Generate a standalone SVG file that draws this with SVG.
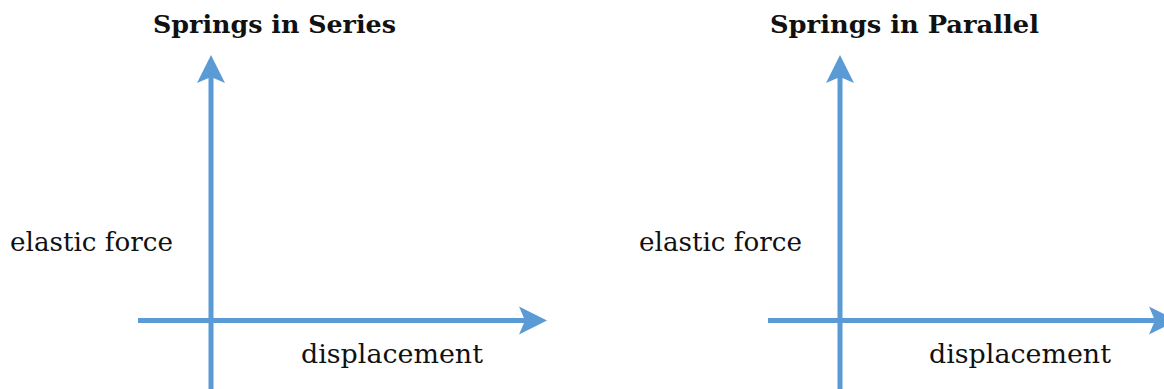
<svg xmlns="http://www.w3.org/2000/svg" width="1164" height="389" viewBox="0 0 1164 389">
  <style>
    .axis { stroke: #5B9BD5; stroke-width: 5; fill: none; }
    .title { font-family: "DejaVu Serif", "Liberation Serif", serif; font-weight: bold; font-size: 25px; fill: #111; }
    .label { font-family: "DejaVu Serif", "Liberation Serif", serif; font-size: 26px; fill: #111; }
  </style>
  <defs>
    <marker id="arrow" viewBox="-8 -16 32 32" refX="0" refY="0" markerWidth="32" markerHeight="32" markerUnits="userSpaceOnUse" orient="auto">
      <path d="M22,0 L-6,-14 L0,0 L-6,14 Z" fill="#5B9BD5"/>
    </marker>
  </defs>

  <g id="series">
    <text class="title" x="153" y="33" textLength="243" lengthAdjust="spacingAndGlyphs">Springs in Series</text>
    <text class="label" x="10" y="251" textLength="163" lengthAdjust="spacingAndGlyphs">elastic force</text>
    <text class="label" x="301" y="363" textLength="182" lengthAdjust="spacingAndGlyphs">displacement</text>
  </g>

  <g id="parallel">
    <text class="title" x="770" y="33" textLength="269" lengthAdjust="spacingAndGlyphs">Springs in Parallel</text>
    <text class="label" x="639" y="251" textLength="163" lengthAdjust="spacingAndGlyphs">elastic force</text>
    <text class="label" x="929" y="363" textLength="182" lengthAdjust="spacingAndGlyphs">displacement</text>
  </g>

  <g id="connectors">
    <line class="axis" x1="211" y1="389" x2="211" y2="77" marker-end="url(#arrow)"/>
    <line class="axis" x1="138" y1="320.5" x2="525" y2="320.5" marker-end="url(#arrow)"/>
    <line class="axis" x1="840" y1="389" x2="840" y2="77" marker-end="url(#arrow)"/>
    <line class="axis" x1="768" y1="320.5" x2="1155" y2="320.5" marker-end="url(#arrow)"/>
  </g>
</svg>
